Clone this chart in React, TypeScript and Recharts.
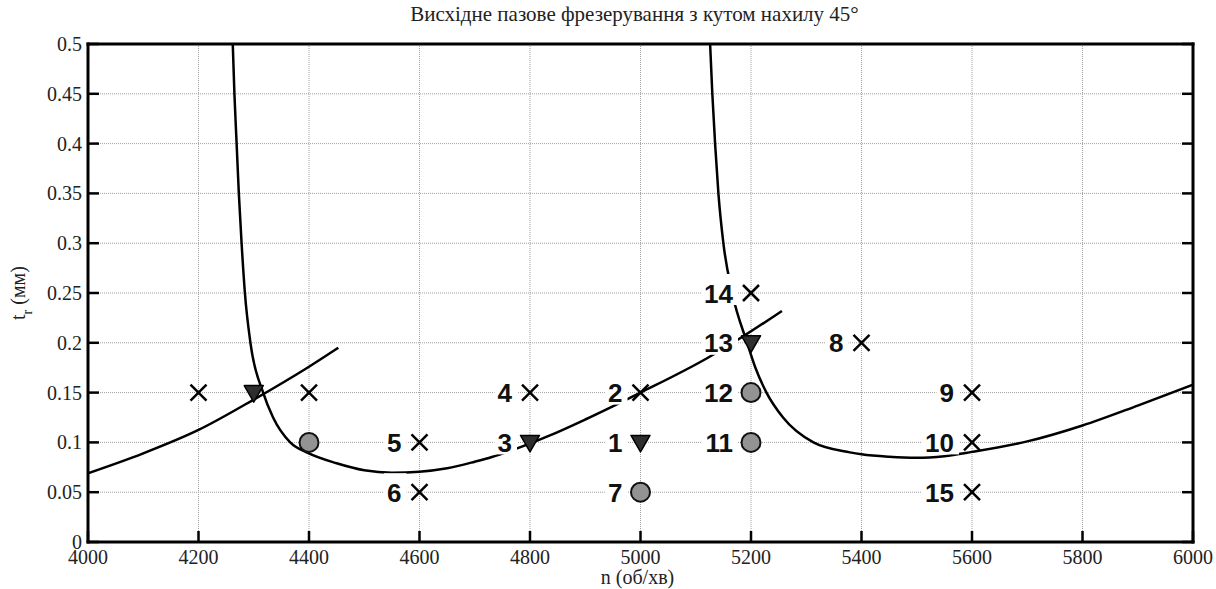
import React from 'react';
import { ComposedChart, Line, Scatter, XAxis, YAxis, CartesianGrid } from 'recharts';

// Axis ticks
const xTicks = [4000, 4200, 4400, 4600, 4800, 5000, 5200, 5400, 5600, 5800, 6000];
const yTicks = [0, 0.05, 0.1, 0.15, 0.2, 0.25, 0.3, 0.35, 0.4, 0.45, 0.5];

// Curve A: short rising branch at the left
const curveAX = [4000, 4100, 4200, 4300, 4400, 4453];
const curveAY = [0.069, 0.089, 0.1125, 0.143, 0.176, 0.195];

// Curve B: left asymptotic branch
const curveBX = [4262, 4265, 4269, 4273, 4278, 4284, 4294, 4317, 4335, 4366, 4398, 4450, 4500, 4550, 4600, 4650, 4700, 4731, 4767, 4836, 4900, 5000, 5122, 5176, 5256];
const curveBY = [0.5, 0.45, 0.4, 0.35, 0.3, 0.25, 0.2, 0.15, 0.125, 0.1, 0.0894, 0.079, 0.072, 0.0696, 0.0706, 0.074, 0.0806, 0.0853, 0.092, 0.107, 0.123, 0.15, 0.185, 0.203, 0.232];

// Curve C: right asymptotic branch
const curveCX = [5126, 5130, 5135, 5141, 5150, 5166, 5193, 5208, 5228, 5258, 5313, 5379, 5400, 5450, 5500, 5550, 5600, 5700, 5800, 5900, 6000];
const curveCY = [0.5, 0.45, 0.4, 0.35, 0.3, 0.25, 0.2, 0.175, 0.15, 0.125, 0.1, 0.09, 0.088, 0.0855, 0.0845, 0.0862, 0.0905, 0.101, 0.117, 0.137, 0.158];

// Cross markers
const crossX = [4200, 4400, 4600, 4600, 4800, 5000, 5200, 5400, 5600, 5600, 5600];
const crossY = [0.15, 0.15, 0.1, 0.05, 0.15, 0.15, 0.25, 0.2, 0.15, 0.1, 0.05];
const crossLabels = ['', '', '5', '6', '4', '2', '14', '8', '9', '10', '15'];

// Down-triangle markers
const triX = [4300, 4800, 5000, 5200];
const triY = [0.15, 0.1, 0.1, 0.2];
const triLabels = ['', '3', '1', '13'];

// Circle markers
const circX = [4400, 5000, 5200, 5200];
const circY = [0.1, 0.05, 0.15, 0.1];
const circLabels = ['', '7', '12', '11'];

const toPts = (xs: number[], ys: number[], labels?: string[]) =>
  xs.map((x, i) => ({ x, y: ys[i], label: labels ? labels[i] : '' }));

const curveA = toPts(curveAX, curveAY);
const curveB = toPts(curveBX, curveBY);
const curveC = toPts(curveCX, curveCY);
const crossPts = toPts(crossX, crossY, crossLabels);
const triPts = toPts(triX, triY, triLabels);
const circPts = toPts(circX, circY, circLabels);
const labelPts = [...crossPts, ...triPts, ...circPts].filter((p) => p.label !== '');

const SERIF = 'Liberation Serif, Times New Roman, serif';
const SANS = 'Liberation Sans, Arial, sans-serif';
const LBL_FS = 26;

const CrossShape = (p: any) => {
  const { cx, cy } = p;
  const s = 8;
  return (
    <g>
      <line x1={cx - s} y1={cy - s} x2={cx + s} y2={cy + s} stroke="#000" strokeWidth={2.5} />
      <line x1={cx - s} y1={cy + s} x2={cx + s} y2={cy - s} stroke="#000" strokeWidth={2.5} />
    </g>
  );
};

const TriShape = (p: any) => {
  const { cx, cy } = p;
  return (
    <polygon
      points={`${cx - 9.5},${cy - 7} ${cx + 9.5},${cy - 7} ${cx},${cy + 9.5}`}
      fill="#2e2e2e"
      stroke="#000"
      strokeWidth={1.5}
      strokeLinejoin="round"
    />
  );
};

const CircShape = (p: any) => {
  const { cx, cy } = p;
  return <circle cx={cx} cy={cy} r={9.5} fill="#939393" stroke="#111" strokeWidth={2} />;
};

const LabelShape = (p: any) => {
  const { cx, cy, payload } = p;
  const text: string = payload.label;
  const w = text.length * 0.556 * LBL_FS;
  const right = cx - 18;
  return (
    <g>
      <rect x={right - w - 3} y={cy - 19} width={w + 8} height={31} fill="#fff" />
      <text
        x={right}
        y={cy + 9.5}
        textAnchor="end"
        fontFamily={SANS}
        fontWeight="bold"
        fontSize={LBL_FS}
        fill="#111"
      >
        {text}
      </text>
    </g>
  );
};

const BottomTick = (p: any) => {
  const { x, y, payload } = p;
  return (
    <g>
      <line x1={x} y1={y} x2={x} y2={y - 11} stroke="#000" strokeWidth={2.5} />
      <text x={x} y={y + 22} textAnchor="middle" fontFamily={SERIF} fontSize={20} fill="#222">
        {payload.value}
      </text>
    </g>
  );
};

const LeftTick = (p: any) => {
  const { x, y, payload } = p;
  return (
    <g>
      <line x1={x} y1={y} x2={x + 11} y2={y} stroke="#000" strokeWidth={2.5} />
      <text x={x - 6} y={y + 7} textAnchor="end" fontFamily={SERIF} fontSize={20} fill="#222">
        {payload.value}
      </text>
    </g>
  );
};

const TopTick = (p: any) => {
  const { x, y } = p;
  return <line x1={x} y1={y} x2={x} y2={y + 11} stroke="#000" strokeWidth={2.5} />;
};

const RightTick = (p: any) => {
  const { x, y } = p;
  return <line x1={x} y1={y} x2={x - 11} y2={y} stroke="#000" strokeWidth={2.5} />;
};

const renderTitle = (props: any) => {
  const vb = props.viewBox || {};
  return (
    <text
      x={vb.x + vb.width / 2 - 6}
      y={vb.y + vb.height - 23}
      textAnchor="middle"
      fontFamily={SERIF}
      fontSize={21}
      fill="#222"
    >
      Висхідне пазове фрезерування з кутом нахилу 45°
    </text>
  );
};

const renderXLabel = (props: any) => {
  const vb = props.viewBox || {};
  return (
    <text x={vb.x + vb.width / 2 - 3} y={vb.y + 42} textAnchor="middle" fontFamily={SERIF} fontSize={20} fill="#222">
      n (об/хв)
    </text>
  );
};

const renderYLabel = (props: any) => {
  const vb = props.viewBox || {};
  const cx = vb.x - 3;
  const cy = vb.y + vb.height / 2;
  return (
    <g transform={`translate(${cx},${cy}) rotate(-90)`}>
      <text x={0} y={0} textAnchor="middle" fontFamily={SERIF} fontSize={20} fill="#222">
        t
        <tspan fontSize={14} dy={7}>r</tspan>
        <tspan dy={-7}> (мм)</tspan>
      </text>
    </g>
  );
};

const axisLine = { stroke: '#000', strokeWidth: 3, strokeLinecap: 'square' as const };

export default function App() {
  return (
    <div style={{ position: 'absolute', left: 0, top: 0, width: 1216, height: 589, background: '#fff' }}>
      <ComposedChart width={1216} height={589} margin={{ top: 43, right: 22, bottom: 17, left: 28 }}>
        <CartesianGrid stroke="#a0a0a0" strokeDasharray="1 1" strokeWidth={1} />
        <XAxis
          xAxisId={0}
          dataKey="x"
          type="number"
          domain={[4000, 6000]}
          ticks={xTicks}
          allowDataOverflow
          height={30}
          axisLine={axisLine}
          tickLine={false}
          tickSize={0}
          tickMargin={0}
          tick={<BottomTick />}
          interval={0}
          label={{ content: renderXLabel }}
        />
        <XAxis
          xAxisId="top"
          orientation="top"
          type="number"
          domain={[4000, 6000]}
          ticks={xTicks}
          allowDataOverflow
          height={1}
          axisLine={axisLine}
          tickLine={false}
          tickSize={0}
          tickMargin={0}
          tick={<TopTick />}
          interval={0}
          label={{ content: renderTitle }}
        />
        <YAxis
          yAxisId={0}
          dataKey="y"
          type="number"
          domain={[0, 0.5]}
          ticks={yTicks}
          allowDataOverflow
          width={60}
          axisLine={axisLine}
          tickLine={false}
          tickSize={0}
          tickMargin={0}
          tick={<LeftTick />}
          interval={0}
          label={{ content: renderYLabel }}
        />
        <YAxis
          yAxisId="right"
          orientation="right"
          type="number"
          domain={[0, 0.5]}
          ticks={yTicks}
          allowDataOverflow
          width={1}
          axisLine={axisLine}
          tickLine={false}
          tickSize={0}
          tickMargin={0}
          tick={<RightTick />}
          interval={0}
        />
        <Line data={curveA} dataKey="y" type="monotone" stroke="#000" strokeWidth={2.5} dot={false} activeDot={false} isAnimationActive={false} />
        <Line data={curveB} dataKey="y" type="monotone" stroke="#000" strokeWidth={2.5} dot={false} activeDot={false} isAnimationActive={false} />
        <Line data={curveC} dataKey="y" type="monotone" stroke="#000" strokeWidth={2.5} dot={false} activeDot={false} isAnimationActive={false} />
        <Scatter data={labelPts} dataKey="y" shape={LabelShape} isAnimationActive={false} />
        <Scatter data={crossPts} dataKey="y" shape={CrossShape} isAnimationActive={false} />
        <Scatter data={triPts} dataKey="y" shape={TriShape} isAnimationActive={false} />
        <Scatter data={circPts} dataKey="y" shape={CircShape} isAnimationActive={false} />
      </ComposedChart>
    </div>
  );
}
